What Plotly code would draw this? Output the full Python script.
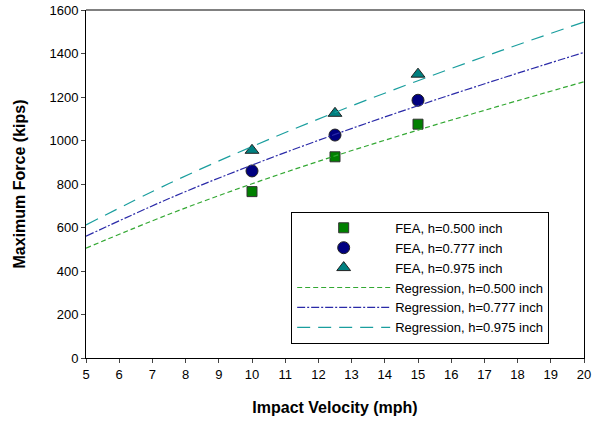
import plotly.graph_objects as go

# FEA data points
fea_x = [10, 12.5, 15]
fea_h0500 = [765, 925, 1075]
fea_h0777 = [860, 1025, 1185]
fea_h0975 = [955, 1125, 1305]

# Regression curves
reg_x = [5, 7.5, 10, 12.5, 15, 17.5, 20]
reg_h0500 = [505, 661, 801, 929, 1048, 1161, 1270]
reg_h0777 = [560, 733, 887, 1028, 1160, 1285, 1405]
reg_h0975 = [612, 802, 972, 1129, 1275, 1413, 1545]

x_ticks = list(range(5, 21))
y_ticks = list(range(0, 1601, 200))

fig = go.Figure()
fig.add_trace(go.Scatter(x=fea_x, y=fea_h0500, mode="markers", name="FEA, h=0.500 inch",
                         marker=dict(symbol="square", size=10, color="#008000",
                                     line=dict(color="#333333", width=1))))
fig.add_trace(go.Scatter(x=fea_x, y=fea_h0777, mode="markers", name="FEA, h=0.777 inch",
                         marker=dict(symbol="circle", size=12, color="#000080",
                                     line=dict(color="#222222", width=1))))
fig.add_trace(go.Scatter(x=fea_x, y=fea_h0975, mode="markers", name="FEA, h=0.975 inch",
                         marker=dict(symbol="triangle-up", size=12, color="#008080",
                                     line=dict(color="#222222", width=1))))
fig.add_trace(go.Scatter(x=reg_x, y=reg_h0500, mode="lines", name="Regression, h=0.500 inch",
                         line=dict(color="#33a833", width=1.2, dash="5px,3px", shape="spline")))
fig.add_trace(go.Scatter(x=reg_x, y=reg_h0777, mode="lines", name="Regression, h=0.777 inch",
                         line=dict(color="#2a2aa8", width=1.2, dash="8px,2px,2px,2px", shape="spline")))
fig.add_trace(go.Scatter(x=reg_x, y=reg_h0975, mode="lines", name="Regression, h=0.975 inch",
                         line=dict(color="#1a9e9e", width=1.2, dash="13px,8px", shape="spline")))

fig.update_layout(
    width=601, height=421,
    margin=dict(l=86, r=17, t=10, b=63),
    paper_bgcolor="white", plot_bgcolor="white",
    font=dict(family="Liberation Sans, Arial, sans-serif", size=13, color="black"),
    showlegend=True,
    legend=dict(x=0.412, y=0.42, xanchor="left", yanchor="top",
                bordercolor="black", borderwidth=1, bgcolor="white",
                font=dict(size=13), itemwidth=93, tracegroupgap=0),
    xaxis=dict(range=[5, 20], tickvals=x_ticks, ticks="outside", ticklen=4,
               showline=True, linecolor="black", linewidth=1, showgrid=False,
               zeroline=False, mirror=False, tickfont=dict(size=13), automargin=False,
               title=dict(text="<b>Impact Velocity (mph)</b>", font=dict(size=16), standoff=21)),
    yaxis=dict(range=[0, 1600], tickvals=y_ticks, ticks="outside", ticklen=4,
               showline=True, linecolor="black", linewidth=1, showgrid=False,
               zeroline=False, mirror=True, tickfont=dict(size=13), automargin=False,
               title=dict(text="<b>Maximum Force (kips)</b>", font=dict(size=16), standoff=19)),
    shapes=[dict(type="line", xref="paper", yref="paper", x0=0, x1=1, y0=1, y1=1,
                 line=dict(color="#808080", width=2))],
)

fig.write_html("out.html", config={"displayModeBar": False},
               post_script="document.body.style.margin='0';")
